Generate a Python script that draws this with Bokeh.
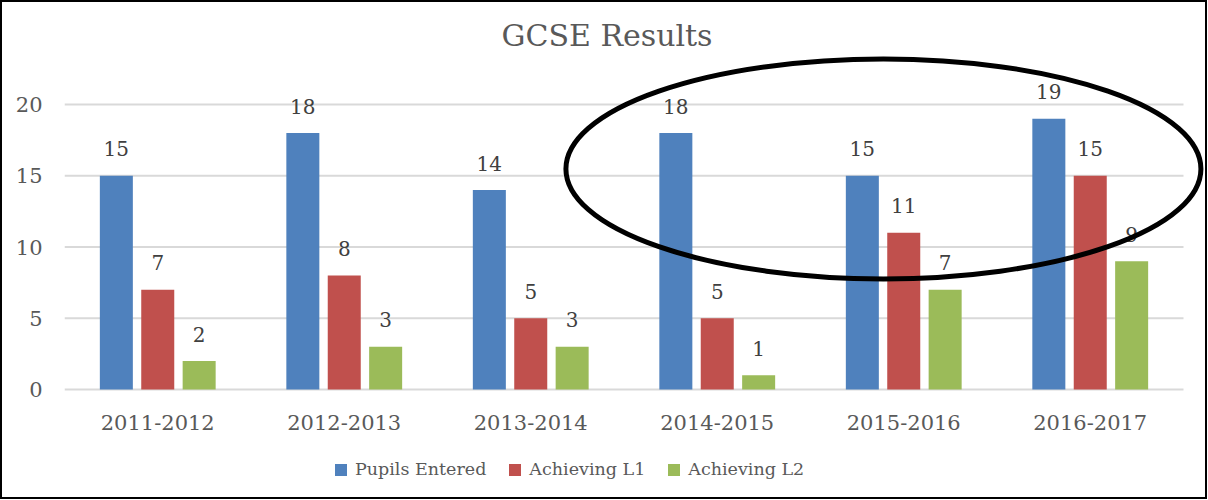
from bokeh.plotting import figure
from bokeh.models import FixedTicker, Legend, LegendItem
from bokeh.layouts import column
from bokeh.embed import file_html
from bokeh.resources import INLINE
from bokeh.core.properties import value

# ---- data ----
periods = ["2011-2012", "2012-2013", "2013-2014", "2014-2015", "2015-2016", "2016-2017"]
pupils_entered = [15, 18, 14, 18, 15, 19]
achieving_l1 = [7, 8, 5, 5, 11, 15]
achieving_l2 = [2, 3, 3, 1, 7, 9]
series_names = ["Pupils Entered", "Achieving L1", "Achieving L2"]
y_ticks = [0, 5, 10, 15, 20]
title_text = "GCSE Results"

# ---- styles ----
series_colors = ["#4F81BD", "#C0504D", "#9BBB59"]
bar_offsets = [-0.222, 0.0, 0.222]
bar_width = 0.177
FONT = "DejaVu Serif"
n = len(periods)
series = [pupils_entered, achieving_l1, achieving_l2]

p = figure(width=1203, height=440, output_backend="svg", toolbar_location=None,
           x_range=(0, n + 0.118), y_range=(-0.28, 23.44),
           min_border_left=62, min_border_right=0, min_border_top=53, min_border_bottom=49)
p.outline_line_color = None
p.xgrid.visible = False
p.ygrid.visible = False

# title
p.title.text = title_text
p.title.align = "left"
p.title.offset = 437
p.title.standoff = 5
p.title.text_font = FONT
p.title.text_font_size = "30px"
p.title.text_font_style = "normal"
p.title.text_color = "#595959"

# grid lines (from tick values)
p.segment(x0=[0] * len(y_ticks), y0=y_ticks, x1=[n] * len(y_ticks), y1=y_ticks,
          line_color="#D9D9D9", line_width=2)

for vals, name, col, off in zip(series, series_names, series_colors, bar_offsets):
    xs = [i + 0.5 + off for i in range(n)]
    p.vbar(x=xs, top=vals, width=bar_width, color=col, line_color=None)
    p.text(x=xs, y=vals, text=[str(v) for v in vals], text_align="center",
           text_baseline="alphabetic", y_offset=-27, text_font=value(FONT),
           text_font_size="20px", text_color="#404040")

# highlight ellipse
ellipse_x, ellipse_y = 4.391, 15.48
p.ellipse(x=[ellipse_x], y=[ellipse_y], width=635, height=220,
          width_units="screen", height_units="screen",
          fill_alpha=0, line_color="black", line_width=5)

# axes
p.yaxis.ticker = FixedTicker(ticks=y_ticks)
p.yaxis.axis_line_color = None
p.yaxis.major_tick_line_color = None
p.yaxis.minor_tick_line_color = None
p.yaxis.major_label_standoff = 16
p.yaxis.major_label_text_font = FONT
p.yaxis.major_label_text_font_size = "21px"
p.yaxis.major_label_text_color = "#595959"

xt = [i + 0.5 for i in range(n)]
p.xaxis.ticker = FixedTicker(ticks=xt)
p.xaxis.major_label_overrides = {t: lab for t, lab in zip(xt, periods)}
p.xaxis.axis_line_color = None
p.xaxis.major_tick_line_color = None
p.xaxis.minor_tick_line_color = None
p.xaxis.major_label_standoff = 15
p.xaxis.major_label_text_font = FONT
p.xaxis.major_label_text_font_size = "21px"
p.xaxis.major_label_text_color = "#595959"

# ---- legend strip below the chart (hidden copies of the series feed it) ----
lg = figure(width=1203, height=55, output_backend="svg", toolbar_location=None,
            x_axis_location=None, y_axis_location=None,
            min_border=0, x_range=(0, 1), y_range=(0, 1))
lg.outline_line_color = None
lg.xgrid.visible = False
lg.ygrid.visible = False
items = []
for vals, name, col in zip(series, series_names, series_colors):
    r = lg.vbar(x=list(range(n)), top=vals, width=bar_width, color=col,
                line_color=None, visible=False)
    items.append(LegendItem(label=name, renderers=[r]))
legend = Legend(items=items, orientation="horizontal", location=(269, 18),
                glyph_width=15, glyph_height=15, label_standoff=7, spacing=21,
                label_text_font=FONT, label_text_font_size="17.5px",
                label_text_color="#595959", inactive_fill_alpha=0,
                border_line_color=None, background_fill_alpha=0,
                padding=0, margin=0)
lg.add_layout(legend)

layout = column(p, lg, spacing=0)
layout.styles = {"border": "2px solid black"}

open("out.html", "w").write(file_html(layout, INLINE))
